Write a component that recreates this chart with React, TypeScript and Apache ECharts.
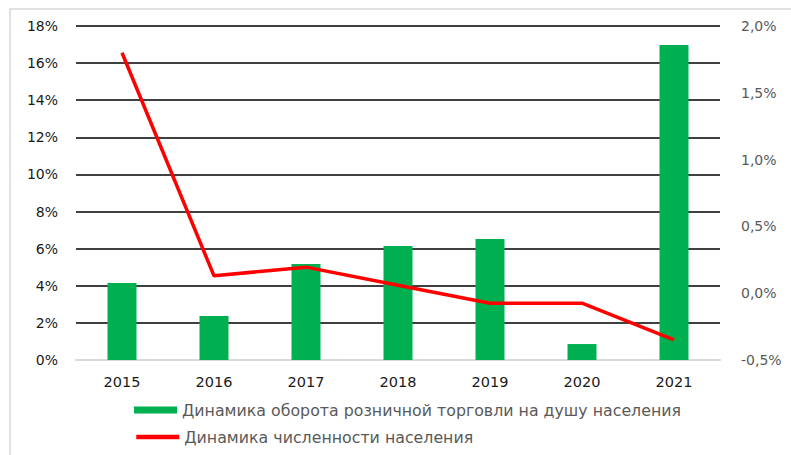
import React, { useEffect, useRef } from "react";
import * as echarts from "echarts";

const years = ["2015", "2016", "2017", "2018", "2019", "2020", "2021"];
const retailTurnover = [4.15, 2.37, 5.17, 6.15, 6.52, 0.86, 16.98];
const population = [1.8, 0.13, 0.195, 0.06, -0.075, -0.075, -0.35];
const barName = "Динамика оборота розничной торговли на душу населения";
const lineName = "Динамика численности населения";

export default function App() {
  const ref = useRef<HTMLDivElement>(null);
  useEffect(() => {
    if (!ref.current) return;
    const chart = echarts.init(ref.current, null, { renderer: "svg" });
    const font = "DejaVu Sans";
    const legendBase = {
      orient: "horizontal",
      left: 134,
      itemWidth: 43,
      itemHeight: 7,
      padding: 0,
      textStyle: { fontFamily: font, fontSize: 15.8, color: "#595959" },
    };
    chart.setOption({
      animation: false,
      textStyle: { fontFamily: font },
      graphic: [
        {
          type: "rect",
          shape: { x: 10, y: 9, width: 800, height: 470 },
          style: { fill: "none", stroke: "#d9d9d9", lineWidth: 1.5 },
          silent: true,
        },
      ],
      grid: { left: 76, right: 71, top: 26, bottom: 95 },
      legend: [
        { ...legendBase, top: 402, data: [{ name: barName, icon: "rect" }] },
        {
          ...legendBase,
          top: 429,
          data: [{ name: lineName, itemStyle: { opacity: 0 }, lineStyle: { width: 4.5 } }],
        },
      ],
      xAxis: {
        type: "category",
        data: years,
        axisLine: { lineStyle: { color: "#d9d9d9", width: 2 } },
        axisTick: { show: false },
        axisLabel: { fontFamily: font, fontSize: 14.5, color: "#1a1a1a", margin: 14 },
      },
      yAxis: [
        {
          type: "value",
          min: 0,
          max: 18,
          interval: 2,
          axisLine: { show: false },
          axisTick: { show: false },
          splitLine: { lineStyle: { color: "#000", width: 1.5 } },
          axisLabel: {
            formatter: (v: number) => `${v}%`,
            fontFamily: font,
            fontSize: 14,
            color: "#1a1a1a",
            margin: 18,
          },
        },
        {
          type: "value",
          min: -0.5,
          max: 2.0,
          interval: 0.5,
          position: "right",
          axisLine: { show: false },
          axisTick: { show: false },
          splitLine: { show: false },
          axisLabel: {
            formatter: (v: number) => `${v.toFixed(1).replace(".", ",")}%`,
            fontFamily: font,
            fontSize: 14,
            color: "#595959",
            margin: 21,
          },
        },
      ],
      series: [
        {
          name: barName,
          type: "bar",
          data: retailTurnover,
          barWidth: 29,
          itemStyle: { color: "#00b050" },
          yAxisIndex: 0,
        },
        {
          name: lineName,
          type: "line",
          yAxisIndex: 1,
          data: population,
          symbol: "none",
          lineStyle: { color: "#ff0000", width: 3.5 },
          itemStyle: { color: "#ff0000" },
        },
      ],
    });
    return () => chart.dispose();
  }, []);
  return <div ref={ref} style={{ width: 791, height: 455, position: "absolute", left: 0, top: 0 }} />;
}
